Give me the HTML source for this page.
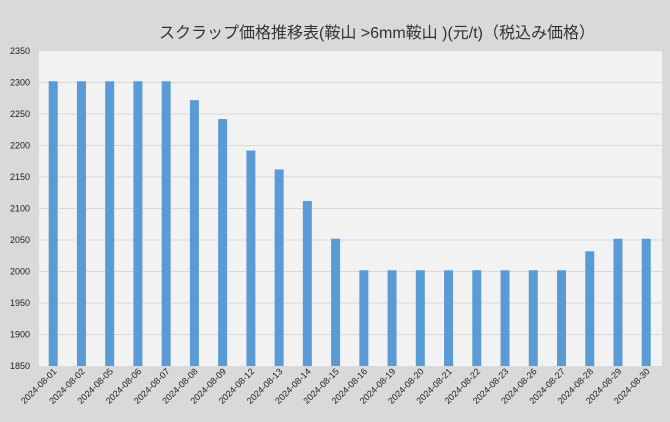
<!DOCTYPE html>
<html><head><meta charset="utf-8"><style>
body{margin:0;background:#d9d9d9;}
svg{display:block;font-family:"Liberation Sans","Noto Sans CJK JP",sans-serif;}
</style></head><body>
<svg width="670" height="422" viewBox="0 0 670 422" xmlns="http://www.w3.org/2000/svg">
<rect width="670" height="422" fill="#d9d9d9"/>
<text x="377" y="38" text-anchor="middle" font-size="16" fill="#333">スクラップ価格推移表(鞍山 &gt;6mm鞍山 )(元/t)（税込み価格）</text>
<rect x="39" y="51" width="623" height="315" fill="#f2f2f2"/>
<g stroke="#d9d9d9" stroke-width="1">
<line x1="39" x2="662" y1="82.5" y2="82.5"/><line x1="39" x2="662" y1="114" y2="114"/>
<line x1="39" x2="662" y1="145.5" y2="145.5"/><line x1="39" x2="662" y1="177" y2="177"/>
<line x1="39" x2="662" y1="208.5" y2="208.5"/><line x1="39" x2="662" y1="240" y2="240"/>
<line x1="39" x2="662" y1="271.5" y2="271.5"/><line x1="39" x2="662" y1="303" y2="303"/>
<line x1="39" x2="662" y1="334.5" y2="334.5"/>
</g>
<g font-size="9" fill="#222" text-anchor="end">
<text x="30" y="54">2350</text><text x="30" y="85.5">2300</text><text x="30" y="117">2250</text>
<text x="30" y="148.5">2200</text><text x="30" y="180">2150</text><text x="30" y="211.5">2100</text>
<text x="30" y="243">2050</text><text x="30" y="274.5">2000</text><text x="30" y="306">1950</text>
<text x="30" y="337.5">1900</text><text x="30" y="369">1850</text>
</g>
<g id="bars" fill="#5b9bd5"></g>
<g id="labels" font-size="9" fill="#222" text-anchor="end"></g>
<script>
var v=[2302,2302,2302,2302,2302,2272,2242,2192,2162,2112,2052,2002,2002,2002,2002,2002,2002,2002,2002,2032,2052,2052];
var d=["01","02","05","06","07","08","09","12","13","14","15","16","19","20","21","22","23","26","27","28","29","30"];
var b=document.getElementById("bars"),l=document.getElementById("labels"),ns="http://www.w3.org/2000/svg";
for(var i=0;i<22;i++){var cx=53.2+i*28.24;var y=366-(v[i]-1850)*0.63;
var r=document.createElementNS(ns,"rect");r.setAttribute("x",cx-4.5);r.setAttribute("y",y);r.setAttribute("width",9);r.setAttribute("height",366-y);b.appendChild(r);
var t=document.createElementNS(ns,"text");t.setAttribute("transform","translate("+(cx+4)+",372) rotate(-45)");t.textContent="2024-08-"+d[i];l.appendChild(t);}
</script>
</svg>
</body></html>
